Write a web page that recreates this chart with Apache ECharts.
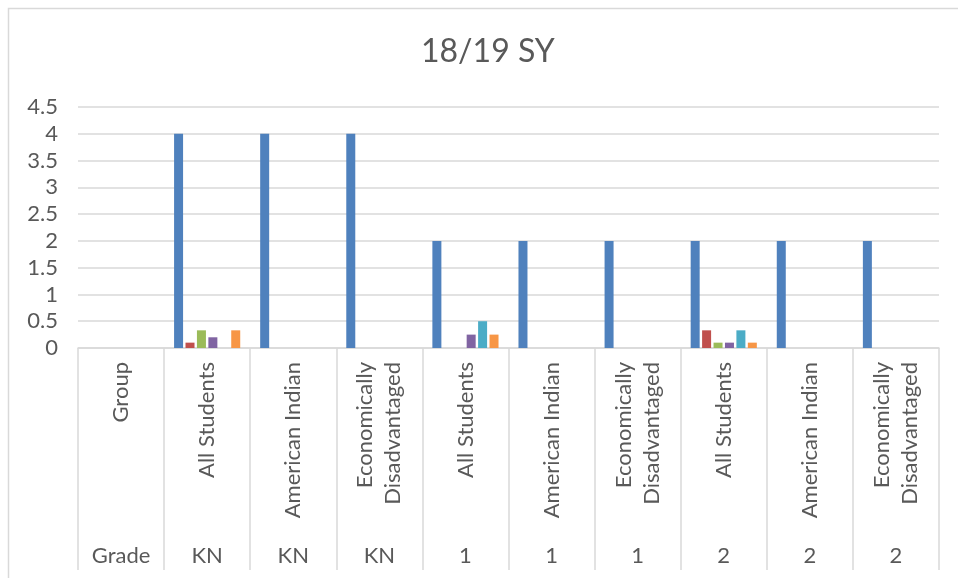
<!DOCTYPE html>
<html>
<head>
<meta charset="utf-8">
<script src="https://cdn.jsdelivr.net/npm/echarts@6/dist/echarts.min.js"></script>
<style>html,body{margin:0;padding:0;background:#fff}#c{width:958px;height:578px}</style>
</head>
<body>
<div id="c"></div>
<script>
const groups = ["Group","All Students","American Indian","Economically\nDisadvantaged","All Students","American Indian","Economically\nDisadvantaged","All Students","American Indian","Economically\nDisadvantaged"];
const grades = ["Grade","KN","KN","KN","1","1","1","2","2","2"];
const seriesNames = ["Series 1","Series 2","Series 3","Series 4","Series 5","Series 6"];
const s1 = [null,4,4,4,2,2,2,2,2,2];
const s2 = [null,0.1,0,0,0,0,0,0.33,0,0];
const s3 = [null,0.33,0,0,0,0,0,0.1,0,0];
const s4 = [null,0.2,0,0,0.25,0,0,0.1,0,0];
const s5 = [null,0,0,0,0.5,0,0,0.33,0,0];
const s6 = [null,0.33,0,0,0.25,0,0,0.1,0,0];
const yTicks = {min:0, max:4.5, interval:0.5};

const colors = ["#4f81bd","#c0504d","#9bbb59","#8064a2","#4bacc6","#f79646"];
const F = "Lato, 'Open Sans', sans-serif";
const TC = "#595959";
const LC = "#d9d9d9";
const chart = echarts.init(document.getElementById('c'), null, {renderer:'canvas'});
const data = [s1,s2,s3,s4,s5,s6];
chart.setOption({
  animation:false,
  color: colors,
  title:{text:"18/19 SY", left:416, top:31, textStyle:{fontFamily:F, fontSize:32, fontWeight:'normal', color:TC}},
  graphic:[{type:'rect', shape:{x:8.5,y:8.5,width:1000,height:1000}, style:{fill:'none', stroke:LC, lineWidth:1.5}, silent:true, z:-1}],
  grid:{left:78, right:19, top:107, bottom:230, containLabel:false},
  xAxis:[
    {type:'category', data:groups, gridIndex:0, position:'bottom',
     axisLine:{show:true, lineStyle:{color:LC, width:1.5}},
     axisTick:{show:true, interval:0, inside:false, length:222, lineStyle:{color:LC, width:1.5}},
     axisLabel:{rotate:90, margin:14, interval:0, fontFamily:F, fontSize:22, color:TC, lineHeight:28}},
    {type:'category', data:grades, gridIndex:0, position:'bottom',
     axisLine:{show:false}, axisTick:{show:false},
     axisLabel:{margin:197, interval:0, fontFamily:F, fontSize:22, color:TC}}
  ],
  yAxis:{type:'value', min:yTicks.min, max:yTicks.max, interval:yTicks.interval,
    axisLine:{show:false}, axisTick:{show:false},
    splitLine:{lineStyle:{color:LC, width:1.5}},
    axisLabel:{margin:20, fontFamily:F, fontSize:22, color:TC}},
  series: data.map((d,i)=>({name:seriesNames[i], type:'bar', xAxisIndex:0, data:d, barWidth:9, barGap:'27%'}))
});
</script>
</body>
</html>
